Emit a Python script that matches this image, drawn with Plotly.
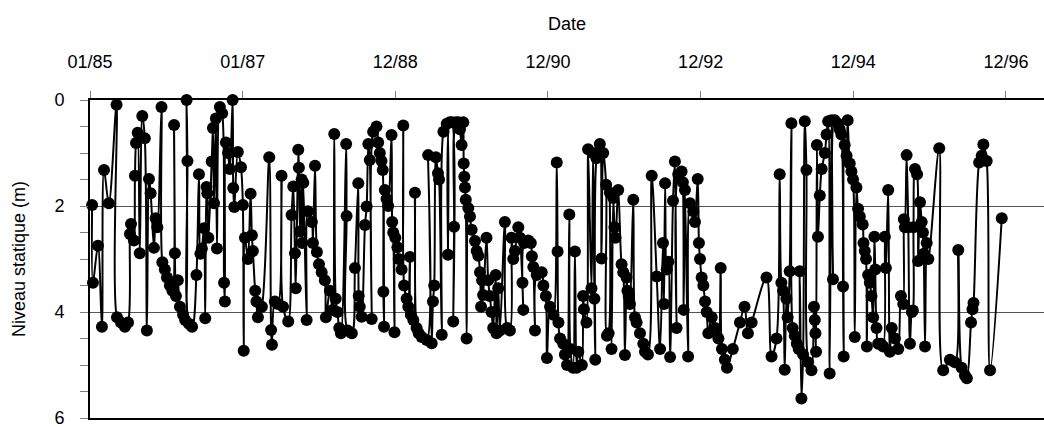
import pandas as pd
import plotly.graph_objects as go

# Days elapsed since 01/01/1985 for each reading, and static water level (m)
days_since_1985 = [
    10, 14, 38, 57, 67, 90, 127, 129, 148, 167, 182, 191, 196, 210, 215, 220, 228, 238, 250, 262,
    272, 282, 290, 306, 314, 322, 342, 346, 358, 368, 382, 394, 402, 406, 411, 420, 430, 445, 455, 462,
    466, 473, 488, 509, 521, 528, 535, 545, 551, 557, 561, 566, 582, 588, 593, 602, 607, 621, 632, 641,
    645, 650, 660, 669, 682, 685, 690, 707, 722, 731, 735, 741, 755, 768, 774, 779, 790, 796, 803, 822,
    857, 866, 870, 884, 899, 916, 923, 948, 964, 972, 980, 984, 996, 999, 1004, 1012, 1015, 1020, 1036, 1042,
    1061, 1066, 1076, 1085, 1095, 1108, 1123, 1128, 1147, 1160, 1168, 1175, 1183, 1192, 1200, 1225, 1227, 1232, 1252, 1267,
    1283, 1285, 1290, 1299, 1315, 1323, 1331, 1338, 1347, 1354, 1370, 1378, 1386, 1394, 1400, 1403, 1406, 1410, 1418, 1426,
    1442, 1445, 1450, 1456, 1460, 1470, 1476, 1490, 1498, 1502, 1514, 1522, 1530, 1534, 1546, 1554, 1562, 1572,
    1586, 1610, 1617, 1634, 1640, 1646, 1654, 1664, 1669, 1682, 1690, 1706, 1712, 1721, 1730, 1737, 1741, 1750, 1761, 1769,
    1777, 1785, 1787, 1790, 1793, 1797, 1801, 1809, 1817, 1825, 1841, 1849, 1857, 1865, 1870, 1875, 1880, 1896, 1904, 1912,
    1920, 1928, 1940, 1944, 1952, 1960, 1984, 1994, 2008, 2016, 2024, 2032, 2048, 2056, 2068, 2072, 2076, 2096, 2108, 2113,
    2120, 2128, 2136, 2160, 2168, 2180, 2185, 2200, 2216, 2232, 2236, 2240, 2248, 2263, 2271, 2281, 2292, 2297, 2310, 2319,
    2327, 2335, 2352,
    2358, 2362, 2374, 2382, 2398, 2406, 2412, 2416, 2422, 2438, 2446, 2454, 2468, 2472, 2480, 2486, 2494, 2502, 2508, 2513,
    2526, 2542, 2550, 2558, 2566, 2570, 2576, 2582, 2598, 2606, 2614, 2630, 2646, 2654, 2668, 2686, 2710, 2726, 2740, 2745,
    2750, 2758, 2766, 2774, 2788, 2797, 2805, 2813, 2829, 2835, 2839, 2845, 2860, 2869, 2885, 2893, 2906, 2912, 2917, 2925,
    2933, 2941, 2949, 2957, 2973, 2989, 3005, 3016, 3022, 3036, 3046,
    3074, 3108, 3130, 3146, 3164, 3235, 3259, 3283, 3298, 3306, 3314, 3322, 3330, 3336, 3346, 3354, 3360, 3370, 3380, 3389,
    3394, 3402, 3410, 3418, 3426, 3434, 3450, 3462, 3466, 3469, 3472, 3476, 3481, 3490, 3499, 3514, 3522, 3530, 3537, 3546,
    3553, 3561, 3577, 3585, 3593, 3601, 3604, 3609, 3618, 3623, 3633, 3641, 3649, 3657, 3665, 3673, 3681, 3695, 3699, 3705,
    3711, 3715, 3721, 3729, 3737, 3745, 3751, 3755, 3761, 3769, 3782, 3793, 3801, 3806, 3817, 3825,
    3834, 3849, 3865, 3878, 3889, 3892, 3897, 3905, 3913, 3921, 3930, 3935, 3938, 3945, 3955, 3960, 3969, 3977, 3983, 3987,
    3993, 4001, 4009, 4061, 4080, 4112, 4136, 4152, 4168, 4184, 4193, 4213, 4220, 4225, 4252, 4264, 4272, 4288, 4304, 4360,
]

niveau_statique_m = [
    1.98, 3.45, 2.75, 4.28, 1.32, 1.95, 0.09, 4.10, 4.20, 4.28, 4.20, 2.53, 2.34, 2.65, 1.43, 0.81, 0.62, 2.89, 0.30, 0.72,
    4.35, 1.49, 1.76, 2.79, 2.23, 2.40, 0.13, 3.06, 3.20, 3.35, 3.50, 3.60, 0.47, 2.89, 3.70, 3.40, 3.90, 4.05, 4.15, 0.00,
    1.15, 4.22, 4.28, 3.30, 1.40, 2.90, 2.80, 2.42, 4.12, 1.64, 1.76, 2.60, 1.16, 0.53, 1.95, 0.35, 2.80, 0.13, 0.25, 3.45,
    3.80, 0.80, 1.00, 1.30, 0.00, 1.66, 2.02, 0.98, 1.27, 1.98, 4.73, 2.60, 3.00, 1.77, 2.55, 2.85, 3.60, 3.80, 4.10, 3.90,
    1.08, 4.34, 4.62, 3.80, 3.85, 1.43, 3.90, 4.18, 2.17, 1.63, 2.89, 3.55, 0.94, 1.28, 2.48, 1.50, 2.70, 1.56, 4.15, 2.10,
    2.30, 2.70, 1.24, 2.87, 3.10, 3.25, 3.40, 4.10, 3.60, 3.96, 0.64, 3.75, 4.00, 4.30, 4.40, 0.83, 2.19, 4.35, 4.40, 3.17,
    1.57, 3.70, 3.90, 4.09, 2.36, 2.01, 0.83, 1.13, 4.13, 0.60, 0.50, 0.80, 1.00, 1.15, 1.32, 3.62, 4.28, 1.70, 1.87, 2.00,
    0.66, 2.30, 2.50, 4.38, 2.60, 2.78, 3.00, 3.20, 0.48, 3.50, 3.75, 3.90, 2.96, 4.05, 4.15, 1.75, 4.30, 4.40,
    4.47, 4.53, 1.04, 4.59, 3.80, 3.50, 1.08, 1.38, 1.50, 4.43, 0.60, 0.45, 2.92, 0.42, 0.42, 4.18, 2.39, 0.42, 0.42, 0.55,
    0.85, 0.42, 1.20, 1.45, 1.65, 1.88, 4.50, 2.04, 2.20, 2.45, 2.66, 2.85, 2.94, 3.25, 3.90, 3.40, 3.68, 2.60, 3.40, 3.70,
    4.00, 4.30, 3.30, 4.40, 3.55, 4.35, 2.30, 4.30, 4.35, 2.60, 3.00, 2.85, 2.40, 2.60, 3.45, 3.96, 2.70, 2.65, 2.70, 2.95,
    3.15, 4.35, 3.30, 3.25, 3.50, 3.70, 4.87, 3.90, 4.05, 1.18, 2.86, 4.20, 4.50, 4.60, 4.80, 5.00, 2.16, 4.70, 5.05, 2.86,
    5.05, 4.75, 5.00,
    3.70, 3.95, 4.20, 0.93, 3.55, 1.00, 3.75, 4.90, 1.10, 0.83, 2.99, 1.00, 1.60, 4.45, 4.40, 1.75, 4.70, 1.85, 2.40, 2.60,
    1.70, 3.10, 3.25, 4.81, 3.35, 3.60, 3.70, 3.85, 1.88, 4.10, 4.20, 4.40, 4.60, 4.75, 4.80, 1.43, 3.33, 4.70, 2.70, 3.85,
    1.57, 3.20, 3.05, 4.85, 1.90, 1.16, 4.30, 1.40, 1.35, 1.55, 3.96, 1.70, 4.84, 1.95, 2.10, 2.30, 1.49, 2.70, 3.00, 3.35,
    3.50, 3.80, 4.00, 4.40, 4.10, 4.30, 4.50, 3.17, 4.70, 4.90, 5.05,
    4.70, 4.20, 3.90, 4.40, 4.20, 3.35, 4.84, 4.50, 1.40, 3.45, 3.60, 5.09, 3.75, 4.10, 3.23, 0.44, 4.30, 4.45, 4.60, 4.70,
    3.23, 5.63, 4.80, 0.40, 1.32, 4.95, 5.10, 3.90, 4.15, 4.40, 4.75, 0.85, 2.58, 1.80, 1.30, 1.00, 0.65, 0.40, 5.16, 0.38,
    3.38, 0.38, 0.45, 0.55, 0.65, 3.52, 4.84, 0.85, 1.05, 0.38, 1.20, 1.35, 1.50, 4.47, 1.65, 2.05, 2.20, 2.35, 2.70, 2.85,
    3.00, 4.65, 3.30, 3.45, 3.70, 4.10, 2.58, 3.20, 4.30, 4.60, 4.60, 4.65, 2.58, 3.17, 1.70, 4.75,
    4.30, 4.50, 4.70, 3.70, 3.85, 2.25, 2.40, 1.04, 2.40, 4.60, 4.00, 3.97, 2.40, 1.30, 1.40, 3.04, 1.93, 2.30, 2.50, 2.90,
    4.65, 2.70, 3.00, 0.91, 5.10, 4.90, 4.95, 2.83, 5.05, 5.20, 5.25, 4.20, 3.95, 3.83, 1.18, 1.05, 0.84, 1.15, 5.10, 2.23,
]

tick_days = [0, 730, 1460, 2190, 2920, 3650, 4380]
tick_labels = ["01/85", "01/87", "12/88", "12/90", "12/92", "12/94", "12/96"]
y_ticks = [0, 2, 4, 6]

origin = pd.Timestamp("1985-01-01")
dates = origin + pd.to_timedelta(days_since_1985, unit="D")
tick_dates = origin + pd.to_timedelta(tick_days, unit="D")
x_end = origin + pd.to_timedelta(4562, unit="D")

FONT = "Liberation Sans, Arial, sans-serif"

fig = go.Figure()
fig.add_trace(go.Scatter(
    x=dates, y=niveau_statique_m,
    mode="lines+markers",
    line=dict(color="black", width=2, shape="spline", smoothing=1.0),
    marker=dict(color="black", size=12, symbol="circle"),
    cliponaxis=False,
    showlegend=False,
))

fig.update_layout(
    width=1044, height=427,
    margin=dict(l=90, r=0, t=100, b=9, autoexpand=False),
    paper_bgcolor="white", plot_bgcolor="white",
    font=dict(family=FONT, size=18, color="black"),
    xaxis=dict(
        type="date", side="top",
        range=[origin, x_end],
        tickvals=tick_dates, ticktext=tick_labels,
        ticks="outside", ticklen=7, tickwidth=1, tickcolor="#808080",
        ticklabelstandoff=16, ticklabeloverflow="allow",
        showline=True, linecolor="black", linewidth=2, mirror=True,
        showgrid=False, zeroline=False, automargin=False,
        title=dict(text="Date", font=dict(size=18), standoff=16),
    ),
    yaxis=dict(
        range=[6, 0],
        tickvals=y_ticks,
        ticks="outside", ticklen=8, tickwidth=1, tickcolor="#808080",
        ticklabelstandoff=12, ticklabeloverflow="allow",
        minor=dict(dtick=0.5, ticks="outside", ticklen=8, tickcolor="#808080", showgrid=False),
        showline=True, linecolor="black", linewidth=2,
        showgrid=True, gridcolor="#555555", gridwidth=1,
        zeroline=False, automargin=False,
        title=dict(text="Niveau statique (m)", font=dict(size=18), standoff=24),
    ),
)

fig.write_html(
    "out.html",
    config={"displayModeBar": False},
    post_script="document.body.style.margin='0';",
)
